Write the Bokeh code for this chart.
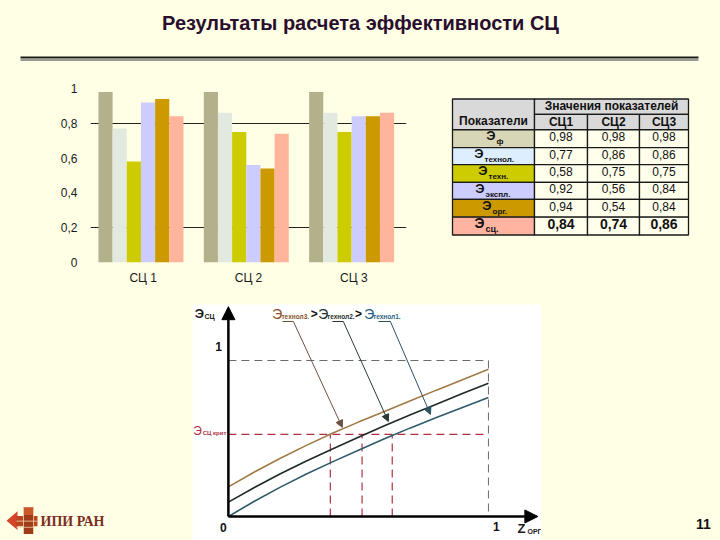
from bokeh.plotting import figure
from bokeh.layouts import column, row
from bokeh.models import Range1d, FactorRange, FixedTicker, Arrow, NormalHead, ColumnDataSource
from bokeh.transform import dodge
from bokeh.core.properties import value
from bokeh.embed import file_html
from bokeh.resources import INLINE

BG = "#FFFFE6"
SANS = "Liberation Sans"

# ---------------- data ----------------
TITLE = "Результаты расчета эффективности СЦ"
groups = ["СЦ 1", "СЦ 2", "СЦ 3"]
table_cols = ["СЦ1", "СЦ2", "СЦ3"]
indicator_subs = ["ф", "технол.", "техн.", "экспл.", "орг.", "сц."]
e_f = [0.98, 0.98, 0.98]
e_tehnol = [0.77, 0.86, 0.86]
e_tehn = [0.58, 0.75, 0.75]
e_ekspl = [0.92, 0.56, 0.84]
e_org = [0.94, 0.54, 0.84]
e_sc = [0.84, 0.74, 0.86]
series = [e_f, e_tehnol, e_tehn, e_ekspl, e_org, e_sc]
value_labels = [["0,98", "0,98", "0,98"], ["0,77", "0,86", "0,86"], ["0,58", "0,75", "0,75"],
                ["0,92", "0,56", "0,84"], ["0,94", "0,54", "0,84"], ["0,84", "0,74", "0,86"]]
y_ticks = [0, 0.2, 0.4, 0.6, 0.8, 1]
y_tick_labels = ["0", "0,2", "0,4", "0,6", "0,8", "1"]
grid_levels = [0.2, 0.8]

# diagram (schematic) data
curve_x = [0.0, 0.1, 0.2, 0.3, 0.4, 0.5, 0.6, 0.7, 0.8, 0.9, 1.0]
curve_top = [0.19, 0.285, 0.373, 0.456, 0.533, 0.605, 0.673, 0.742, 0.81, 0.877, 0.944]
curve_mid = [0.092, 0.186, 0.274, 0.356, 0.432, 0.508, 0.582, 0.652, 0.72, 0.788, 0.854]
curve_low = [0.0, 0.098, 0.188, 0.272, 0.35, 0.425, 0.498, 0.568, 0.634, 0.699, 0.763]
e_crit = 0.526
crit_x = [0.392, 0.514, 0.63]

# ---------------- styles ----------------
bar_colors = ["#B3B18C", "#E2EAE0", "#CCCC00", "#CCCCFF", "#CC9900", "#FFB49C"]
row_colors = ["#D7D6B6", "#DDEFFF", "#CCCC00", "#CCCCFF", "#CC9900", "#FFB4A2"]
curve_colors = ["#A07A45", "#1E2A2A", "#2E5A6A"]
label_colors = ["#8A5228", "#1F2F2F", "#2B5F80"]
arrow_colors = ["#6E5040", "#2A3A32", "#2A5262"]
RED = "#B0303F"


def canvas(w, h, xr, yr, **kw):
    p = figure(width=w, height=h, x_range=Range1d(*xr), y_range=Range1d(*yr),
               x_axis_type=None, y_axis_type=None, output_backend="svg",
               toolbar_location=None, min_border=0, outline_line_color=None,
               background_fill_color=BG, border_fill_color=BG, **kw)
    return p


def txt(p, x, y, s, size, color="#111111", bold=False, align="center", font=SANS, baseline="middle"):
    p.text(x=[x], y=[y], text=[s], text_font=value(font), text_font_size=size,
           text_color=color, text_font_style="bold" if bold else "normal",
           text_align=align, text_baseline=baseline)


# ---------------- top band ----------------
top = canvas(720, 75, (0, 720), (75, 0))
txt(top, 360, 22, TITLE, "20px", color="#2A0E2E", bold=True)
top.line(x=[20, 698], y=[59.5, 59.5], line_color="#9A9A90", line_width=2)
top.line(x=[20, 698], y=[57, 57], line_color="#1A1A1A", line_width=2)

# ---------------- bar chart ----------------
bar = figure(width=420, height=215, x_range=FactorRange(factors=groups, range_padding=0),
             y_range=Range1d(0, 1), output_backend="svg", toolbar_location=None,
             min_border_left=90, min_border_right=14, min_border_top=13, min_border_bottom=28,
             background_fill_color=BG, border_fill_color=BG, outline_line_color=None)
W = 0.1345
for i, (vals, col) in enumerate(zip(series, bar_colors)):
    src = ColumnDataSource(dict(g=groups, v=vals))
    bar.vbar(x=dodge("g", (i - 2.5) * W - 0.021, range=bar.x_range), top="v", width=W,
             fill_color=col, line_color=None, source=src)
bar.ygrid.ticker = FixedTicker(ticks=grid_levels)
bar.ygrid.grid_line_color = "#222222"
bar.xgrid.grid_line_color = None
overrides = {}
for t, l in zip(y_ticks, y_tick_labels):
    overrides[t] = l
bar.yaxis.ticker = FixedTicker(ticks=y_ticks)
bar.yaxis.major_label_overrides = overrides
for ax in (bar.xaxis[0], bar.yaxis[0]):
    ax.axis_line_color = None
    ax.major_tick_line_color = None
    ax.minor_tick_line_color = None
    ax.major_tick_out = 0
    ax.major_tick_in = 0
    ax.major_label_text_font = SANS
    ax.major_label_text_font_size = "12px"
    ax.major_label_text_color = "#1A1A1A"
bar.yaxis.major_label_standoff = 13
bar.xaxis.major_label_standoff = 8

# ---------------- table ----------------
tab = canvas(300, 215, (420, 720), (290, 75))
row_edges = [88, 107, 126, 148, 169, 191, 212, 234, 256]
col_edges = [452, 534, 587, 639, 688]
LC = "#1A1A1A"
tab.quad(left=[col_edges[0]], right=[col_edges[1]], top=[row_edges[0]], bottom=[row_edges[2]],
         fill_color="#D9D9D9", line_color=LC, line_width=1.3)
tab.quad(left=[col_edges[1]], right=[col_edges[4]], top=[row_edges[0]], bottom=[row_edges[1]],
         fill_color="#D9D9D9", line_color=LC, line_width=1.3)
tab.quad(left=col_edges[1:4], right=col_edges[2:5], top=[row_edges[1]] * 3, bottom=[row_edges[2]] * 3,
         fill_color="#D9D9D9", line_color=LC, line_width=1.3)
txt(tab, (col_edges[0] + col_edges[1]) / 2, 115, "Показатели", "12px", bold=True)
txt(tab, (col_edges[1] + col_edges[4]) / 2, 97, "Значения показателей", "12px", bold=True)
for j, c in enumerate(table_cols):
    txt(tab, (col_edges[j + 1] + col_edges[j + 2]) / 2, 116, c, "12px", bold=True)
anchors = [495, 483, 487, 484, 491, 484]
for r in range(6):
    t, b = row_edges[r + 2], row_edges[r + 3]
    yc = (t + b) / 2
    tab.quad(left=[col_edges[0]], right=[col_edges[1]], top=[t], bottom=[b],
             fill_color=row_colors[r], line_color=LC, line_width=1.3)
    tab.quad(left=col_edges[1:4], right=col_edges[2:5], top=[t] * 3, bottom=[b] * 3,
             fill_color="#FFFFEC", line_color=LC, line_width=1.3)
    last = r == 5
    txt(tab, anchors[r], yc - 3.5, "Э", "14px" if last else "13px", bold=True, align="right")
    txt(tab, anchors[r] + 1, yc + 4, indicator_subs[r], "9px" if last else "8px", bold=True, align="left")
    for j in range(3):
        txt(tab, (col_edges[j + 1] + col_edges[j + 2]) / 2, yc - 2.5, value_labels[r][j],
            "14px" if last else "12px", bold=last)

# ---------------- bottom band ----------------
left = canvas(192, 250, (0, 192), (540, 290))
left.patch(x=[6, 17, 17], y=[519, 509, 529], fill_color="#D4452A", line_color=None)
left.quad(left=[16], right=[37], top=[514], bottom=[525], fill_color="#B8441E", line_color=None)
left.quad(left=[23], right=[33], top=[505], bottom=[533], fill_color="#9E3B18", line_color=None)
left.quad(left=[23], right=[33], top=[505], bottom=[513], fill_color="#C9592A", line_color=None)
left.multi_line(xs=[[16, 37], [23, 23], [33, 33], [16, 33]], ys=[[519.5, 519.5], [505, 533], [505, 533], [526, 526]],
                line_color="#F3D6B0", line_width=0.8)
txt(left, 40, 520, "ИПИ РАН", "14px", color="#7B2E1E", bold=True, align="left", font="Liberation Serif")

right = canvas(179, 250, (541, 720), (540, 290))
txt(right, 703, 523, "11", "14px", color="#111111", bold=True)

diag = figure(width=349, height=250, x_range=Range1d(-0.138, 1.204), y_range=Range1d(-0.154, 1.359),
              x_axis_type=None, y_axis_type=None, output_backend="svg", toolbar_location=None,
              min_border_left=0, min_border_right=0, min_border_top=14, min_border_bottom=0,
              background_fill_color="white", border_fill_color=BG, outline_line_color=None)
diag.line(x=[0, 1, 1], y=[1, 1, 0], line_color="#6A6A6A", line_width=1, line_dash="8 5")
diag.line(x=[0, 1], y=[e_crit, e_crit], line_color=RED, line_width=1.2, line_dash="8 5")
diag.multi_line(xs=[[c, c] for c in crit_x], ys=[[0, e_crit]] * len(crit_x),
                line_color=RED, line_width=1.2, line_dash="8 5")
for ys, col in zip([curve_top, curve_mid, curve_low], curve_colors):
    diag.line(x=curve_x, y=ys, line_color=col, line_width=1.6)
diag.add_layout(Arrow(x_start=0, y_start=0, x_end=1.19, y_end=0, line_width=2.5, line_color="black",
                      end=NormalHead(size=13, fill_color="black", line_color="black")))
diag.add_layout(Arrow(x_start=0, y_start=0, x_end=0, y_end=1.345, line_width=2.5, line_color="black",
                      end=NormalHead(size=13, fill_color="black", line_color="black")))
ticks = [(0.208, 0.25), (0.40, 0.442), (0.577, 0.623)]
targets = [(0.438, 0.571), (0.615, 0.609), (0.777, 0.654)]
for (a, b), (tx, ty), col in zip(ticks, targets, arrow_colors):
    diag.line(x=[a, b], y=[1.25, 1.25], line_color=col, line_width=1)
    diag.add_layout(Arrow(x_start=b, y_start=1.25, x_end=tx, y_end=ty, line_width=1, line_color=col,
                          end=NormalHead(size=7, fill_color=col, line_color=col)))
txt(diag, 0.188, 1.30, "Э", "14px", color=label_colors[0])
txt(diag, 0.204, 1.28, "технол3.", "6.5px", color=label_colors[0], bold=True, align="left")
txt(diag, 0.33, 1.295, ">", "12px", color="#111111", bold=True)
txt(diag, 0.365, 1.30, "Э", "14px", color=label_colors[1])
txt(diag, 0.379, 1.28, "технол2.", "6.5px", color=label_colors[1], bold=True, align="left")
txt(diag, 0.5, 1.295, ">", "12px", color="#111111", bold=True)
txt(diag, 0.542, 1.30, "Э", "14px", color=label_colors[2])
txt(diag, 0.556, 1.28, "технол1.", "6.5px", color=label_colors[2], bold=True, align="left")

txt(diag, -0.112, 1.30, "Э", "13px", color="#1A1A1A", bold=True)
txt(diag, -0.092, 1.28, "СЦ", "7px", color="#1A1A1A", bold=True, align="left")
txt(diag, -0.038, 1.09, "1", "12px", color="#111111", bold=True)
txt(diag, -0.119, 0.545, "Э", "12px", color=RED)
txt(diag, -0.099, 0.532, "СЦ крит", "6px", color=RED, bold=True, align="left")
txt(diag, -0.019, -0.07, "0", "12px", color="#111111", bold=True)
txt(diag, 1.03, -0.064, "1", "12px", color="#111111", bold=True)
txt(diag, 1.127, -0.077, "Z", "13px", color="#1A1A1A", bold=True)
txt(diag, 1.15, -0.096, "ОРГ", "7px", color="#1A1A1A", bold=True, align="left")

layout = column(top, row(bar, tab), row(left, diag, right))
html = file_html(layout, INLINE, title="chart")
html = html.replace("<body>", '<body style="margin:0;background:%s">' % BG)
open("out.html", "w").write(html)
